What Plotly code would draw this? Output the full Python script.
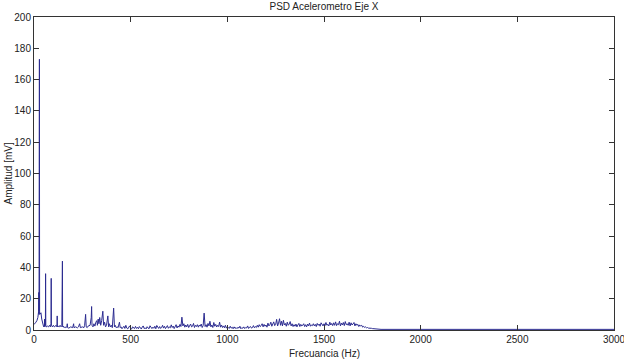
import plotly.graph_objects as go

# Low-frequency part (explicit peaks), Hz and mV
low_freq = [0, 5, 10, 15, 20, 24, 25, 26, 27, 28, 29, 30, 33, 36, 40, 45, 50, 54, 55, 56,
            59, 60, 61, 65, 70, 75, 80, 85, 88, 89, 90, 95, 100, 105, 110, 115, 119, 120, 121, 125,
            130, 135, 140, 144, 145, 146, 147, 148, 152, 156, 160, 165, 170, 172, 174, 180, 190, 200, 205, 207,
            215, 225, 230, 236, 240, 250, 258, 262, 267, 270, 275, 280, 290, 296, 298, 300, 305, 310, 315, 320,
            325, 328, 332, 336, 340, 345, 350, 356, 360, 365, 370, 375, 382, 386, 390, 395, 400, 405, 412, 416,
            420, 425, 430, 435, 442, 446]
low_amp = [3.5, 4, 5, 6, 8, 12, 24, 10, 103, 173, 12, 10, 11, 11, 7, 3, 2, 2.5, 7, 2,
           3, 36, 3, 2, 2.5, 2, 3, 2, 4, 33, 3, 2, 3, 2, 2.5, 3, 2, 9, 2, 2.5,
           2, 3, 2, 3, 13, 3, 44, 2, 2.5, 1.5, 2, 1.5, 2, 4, 1.5, 1.2, 2, 1.5, 4, 1.5,
           2, 1.4, 2, 4, 1.5, 2, 1.5, 3, 10, 2, 1.5, 2.5, 3, 8, 15, 3, 2, 4, 2.5, 5,
           6, 3, 7, 4, 8, 3, 6, 12, 3, 5, 2, 3, 9, 2, 4, 2, 3, 1.5, 14, 2,
           3, 1.5, 2, 1.5, 5, 1.5]

# Mid band 450..1800 Hz, 5 Hz steps
mid_start, mid_step = 450, 5
mid_amp = [2.0, 0.8, 1.6, 2.4, 1.0, 3.0, 1.2, 0.7, 1.8, 2.6, 1.1, 0.6, 2.0, 1.4, 0.9, 2.3, 1.0, 1.7, 0.8, 2.2,
           1.2, 0.6, 1.9, 2.6, 0.9, 1.4, 0.7, 2.1, 1.3, 0.8, 2.7, 1.5, 0.9, 1.8, 1.1, 2.4, 0.8, 2.9, 1.4, 1.0,
           2.2, 1.0, 1.6, 3.0, 1.2, 2.4, 0.9, 1.8, 2.8, 1.1, 2.0, 1.4, 3.3, 1.6, 2.5, 0.9, 2.1, 3.4, 1.3, 2.6,
           1.8, 3.6, 2.2, 8.2, 2.6, 4.0, 1.8, 3.2, 2.0, 3.6, 1.6, 2.8, 3.8, 2.0, 2.4, 4.2, 1.6, 3.0, 2.2, 3.4,
           1.8, 3.2, 2.4, 3.8, 1.6, 2.9, 10.8, 2.2, 3.4, 1.8, 4.2, 2.6, 5.6, 2.0, 3.2, 1.6, 4.8, 2.4, 3.6, 1.9,
           3.0, 2.2, 5.0, 1.8, 3.2, 1.6, 2.6, 1.4, 3.0, 1.2, 2.2, 1.6, 1.0, 2.4, 1.2, 1.8, 0.8, 2.0, 1.0, 1.6,
           0.9, 1.8, 1.2, 2.4, 0.8, 1.5, 1.1, 2.0, 0.9, 1.6, 1.3, 2.6, 1.0, 1.8, 2.2, 1.2, 1.6, 2.8, 1.4, 2.2,
           1.6, 3.0, 1.8, 3.4, 2.2, 2.8, 4.0, 2.0, 3.6, 2.4, 3.2, 1.8, 4.4, 2.6, 3.4, 5.0, 2.4, 3.8, 5.2, 2.8,
           3.6, 6.8, 2.6, 4.4, 7.2, 3.0, 5.6, 2.6, 6.2, 3.2, 4.2, 2.4, 5.0, 3.0, 3.8, 5.4, 2.6, 4.0, 2.2, 3.4,
           2.4, 3.8, 2.0, 3.2, 4.2, 2.2, 3.6, 2.6, 3.0, 4.0, 2.2, 3.4, 2.0, 3.8, 2.6, 4.4, 2.4, 3.2, 2.8, 4.0,
           2.6, 3.6, 2.2, 4.2, 3.0, 3.8, 2.4, 4.6, 3.2, 2.6, 4.0, 2.8, 4.8, 3.0, 3.6, 2.6, 5.0, 3.2, 4.2, 2.8,
           4.6, 3.0, 5.2, 2.8, 4.0, 3.4, 5.6, 2.6, 4.4, 3.2, 4.8, 2.8, 5.4, 3.4, 4.0, 3.0, 5.0, 2.6, 4.6, 3.2,
           3.8, 4.8, 2.6, 4.0, 3.0, 3.6, 2.2, 3.2, 2.6, 3.0, 1.8, 2.4, 1.6, 2.0, 1.4, 1.6, 1.2, 1.3, 1.0, 1.1,
           0.9, 0.8, 0.7, 0.6, 0.6, 0.5, 0.5, 0.45, 0.4, 0.4, 0.4]

# Tail
tail_freq = [2000, 2500, 3000]
tail_amp = [0.4, 0.4, 0.4]

x_ticks = [0, 500, 1000, 1500, 2000, 2500, 3000]
y_ticks = [0, 20, 40, 60, 80, 100, 120, 140, 160, 180, 200]

mid_freq = [mid_start + i * mid_step for i in range(len(mid_amp))]
freq = low_freq + mid_freq + tail_freq
amp = low_amp + mid_amp + tail_amp

fig = go.Figure()
fig.add_trace(go.Scatter(x=freq, y=amp, mode="lines",
                         line=dict(color="#2b2b90", width=1), showlegend=False))

font = dict(family="Liberation Sans, Arial, sans-serif", size=10, color="#222")
axis_common = dict(showline=True, linecolor="#333", linewidth=1, mirror="ticks",
                   ticks="inside", ticklen=5, tickcolor="#333", showgrid=False,
                   zeroline=False, tickfont=font, automargin=False,
                   ticklabeloverflow="allow")
fig.update_layout(
    width=624, height=360,
    margin=dict(l=34, r=10, t=17, b=30),
    paper_bgcolor="white", plot_bgcolor="white",
    font=font,
    title=dict(text="PSD Acelerometro Eje X", x=0.5, xref="paper", xanchor="center",
               y=1 - 6 / 360, yanchor="middle", yref="container", font=font),
    xaxis=dict(range=[0, 3000], tickvals=x_ticks, ticktext=[str(v) for v in x_ticks], **axis_common),
    yaxis=dict(range=[0, 200], tickvals=y_ticks, ticktext=[str(v) for v in y_ticks], **axis_common),
    annotations=[
        dict(text="Frecuancia (Hz)", x=0.5, xref="paper", y=-23 / 313, yref="paper", yanchor="middle",
             showarrow=False, font=font),
        dict(text="Amplitud [mV]", x=-26 / 580, xref="paper", xanchor="center",
             y=0.5, yref="paper", textangle=-90, showarrow=False, font=font),
    ],
)
fig.write_html("out.html", config={"displayModeBar": False},
               post_script="document.body.style.margin='0';")
